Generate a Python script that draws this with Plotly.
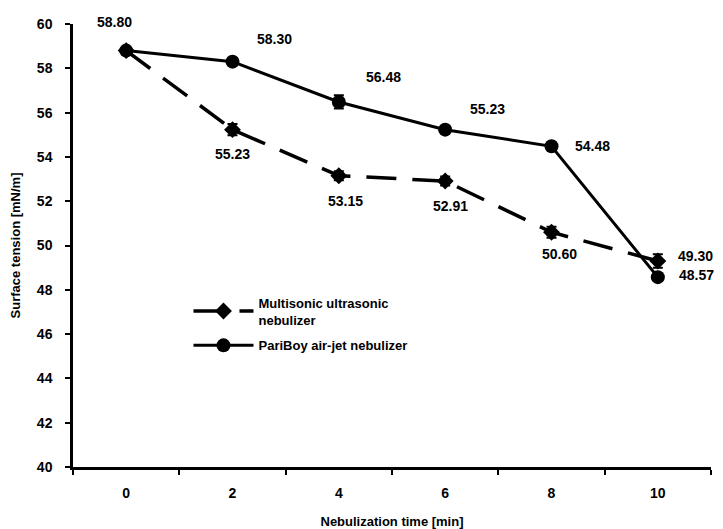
import plotly.graph_objects as go

times = ["0", "2", "4", "6", "8", "10"]
multisonic = [58.80, 55.23, 53.15, 52.91, 50.60, 49.30]
multisonic_err = [0.1, 0.25, 0.2, 0.2, 0.25, 0.3]
pariboy = [58.80, 58.30, 56.48, 55.23, 54.48, 48.57]
pariboy_err = [0.1, 0.1, 0.3, 0.1, 0.1, 0.15]

# label offsets (pixels) for each data label
multi_label_pos = [None, (0, 24), (7, 25), (5, 25), (8, 22), (38, -5)]
pari_label_pos = [(-12, -29), (42, -23), (45, -25), (42, -21), (41, 0), (39, -2)]

font_family = "Liberation Sans, Arial, sans-serif"

fig = go.Figure()
fig.add_trace(go.Scatter(
    x=times, y=multisonic, name="Multisonic ultrasonic<br>nebulizer",
    legendgroup="multi",
    mode="lines+markers",
    line=dict(color="black", width=3.5, dash="30px,16px"),
    marker=dict(symbol="diamond", size=13, color="black"),
    error_y=dict(type="data", array=multisonic_err, color="black", thickness=2, width=5),
))
fig.add_trace(go.Scatter(
    x=times, y=pariboy, name="PariBoy air-jet nebulizer",
    legendgroup="pari",
    mode="lines+markers",
    line=dict(color="black", width=3),
    marker=dict(symbol="circle", size=14, color="black"),
    error_y=dict(type="data", array=pariboy_err, color="black", thickness=2, width=5),
))

annotations = []
for i, (yi, pos) in enumerate(zip(multisonic, multi_label_pos)):
    if pos is None:
        continue
    annotations.append(dict(x=i, y=yi, text=f"{yi:.2f}", showarrow=False,
                            xshift=pos[0], yshift=-pos[1],
                            font=dict(size=14, family=font_family, color="black", weight="bold")))
for i, (yi, pos) in enumerate(zip(pariboy, pari_label_pos)):
    annotations.append(dict(x=i, y=yi, text=f"{yi:.2f}", showarrow=False,
                            xshift=pos[0], yshift=-pos[1],
                            font=dict(size=14, family=font_family, color="black", weight="bold")))

fig.update_layout(
    width=715, height=521,
    margin=dict(l=65, r=12, t=16, b=62),
    paper_bgcolor="white", plot_bgcolor="white",
    font=dict(family=font_family, color="black", size=13, weight="bold"),
    showlegend=True,
    legend=dict(x=0.181, y=0.405, xanchor="left", yanchor="top",
                bgcolor="rgba(0,0,0,0)", font=dict(size=13, weight="bold"),
                itemwidth=60, traceorder="grouped", tracegroupgap=6),
    annotations=annotations,
)
fig.update_xaxes(
    type="category", range=[-0.5, 5.5], tickson="boundaries",
    showline=True, linecolor="black", linewidth=2.5,
    ticks="outside", ticklen=5, tickwidth=2, tickcolor="black",
    showgrid=False, zeroline=False, automargin=False,
    title=dict(text="Nebulization time [min]", font=dict(size=13, weight="bold"), standoff=18),
    tickfont=dict(size=14, weight="bold"),
    ticklabelstandoff=11,
)
fig.update_yaxes(
    range=[40, 60], dtick=2,
    showline=True, linecolor="black", linewidth=2.5,
    ticks="outside", ticklen=5, tickwidth=2, tickcolor="black",
    showgrid=False, zeroline=False, automargin=False,
    title=dict(text="Surface tension [mN/m]", font=dict(size=13, weight="bold"), standoff=18),
    tickfont=dict(size=14, weight="bold"),
    ticklabelstandoff=10,
)

fig.write_html("out.html")
